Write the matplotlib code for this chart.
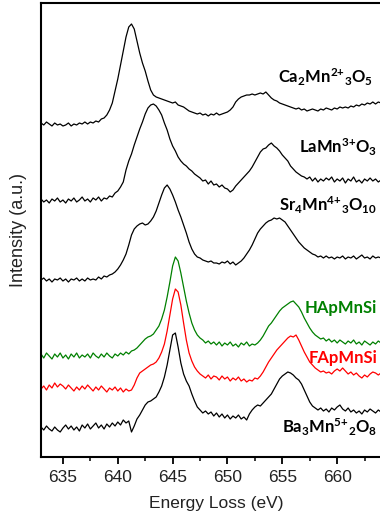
import numpy as np
import matplotlib
matplotlib.use('Agg')
import matplotlib.pyplot as plt

# energy grid (eV), 0.25 eV steps from 633 to 664
energy = np.linspace(633, 664, 125)

# stacked EELS Mn L-edge spectra (offset intensities, a.u.)
ca2mn3o5 = [
    334, 332, 335, 333,  331, 334, 332, 333,  331, 332, 334, 331,  333, 332, 334, 333,
    335, 333, 335, 334,  336, 335, 338, 339,  342, 347, 354, 366,  378, 392, 406, 420,
    430, 433, 428, 416,  404, 394, 386, 376,  367, 362, 360, 359,  358, 357, 356, 355,
    354, 355, 352, 351,  350, 348, 346, 345,  344, 343, 344, 342,  343, 341, 343, 342,
    344, 342, 343, 344,  345, 347, 350, 355,  358, 360, 361, 362,  362, 363, 362, 363,
    364, 363, 365, 362,  359, 357, 356, 354,  353, 352, 351, 350,  349, 348, 349, 347,
    348, 346, 347, 348,  347, 346, 348, 347,  349, 348, 347, 349,  348, 350, 349, 350,
    349, 351, 350, 352,  351, 353, 352, 354,  353, 355, 353, 355,  354]
lamno3 = [
    258, 255, 257, 254,  258, 256, 259, 255,  257, 254, 258, 256,  259, 255, 257, 260,
    256, 258, 255, 259,  257, 260, 256, 259,  258, 261, 260, 264,  266, 270, 275, 287,
    296, 303, 312, 320,  328, 335, 343, 349,  352, 353, 351, 347,  342, 334, 327, 318,
    311, 306, 300, 296,  293, 291, 288, 286,  283, 281, 279, 276,  277, 273, 276, 272,
    273, 270, 272, 269,  268, 265, 267, 271,  274, 277, 280, 283,  286, 290, 295, 300,
    305, 308, 309, 312,  314, 311, 309, 306,  302, 299, 296, 291,  288, 285, 283, 281,
    280, 278, 280, 276,  279, 275, 278, 276,  279, 277, 280, 275,  278, 276, 279, 274,
    278, 276, 280, 275,  277, 274, 278, 276,  279, 276, 278, 275,  277]
sr4mn3o10 = [
    177, 179, 176, 178,  175, 178, 177, 179,  176, 178, 175, 178,  177, 179, 176, 178,
    176, 179, 177, 178,  177, 180, 178, 181,  180, 182, 183, 185,  188, 192, 197, 203,
    212, 222, 228, 231,  233, 234, 232, 233,  236, 240, 246, 254,  262, 269, 272, 268,
    262, 255, 247, 240,  232, 224, 215, 208,  203, 200, 199, 197,  196, 195, 196, 194,
    194, 193, 195, 194,  196, 193, 195, 192,  194, 196, 199, 203,  207, 212, 218, 224,
    228, 231, 234, 236,  237, 239, 238, 239,  237, 235, 231, 227,  223, 219, 215, 212,
    209, 207, 205, 203,  202, 200, 201, 199,  201, 199, 200, 198,  200, 199, 201, 198,
    200, 199, 201, 198,  200, 202, 199, 200,  198, 201, 199, 200,  199]
hapmnsi = [
    103, 99, 104, 101,  98, 103, 100, 104,  99, 102, 98, 103,  100, 104, 99, 102,
    100, 103, 99, 104,  101, 99, 103, 100,  104, 101, 99, 103,  101, 104, 102, 105,
    103, 106, 107, 109,  112, 115, 118, 120,  121, 123, 127, 131,  138, 147, 160, 175,
    191, 200, 196, 184,  170, 156, 144, 134,  127, 122, 119, 117,  114, 116, 113, 115,
    112, 115, 111, 114,  112, 115, 111, 113,  110, 114, 112, 115,  111, 113, 112, 114,
    117, 121, 126, 131,  134, 138, 142, 146,  149, 151, 153, 155,  156, 153, 150, 145,
    139, 134, 129, 125,  122, 120, 118, 119,  116, 118, 115, 117,  114, 117, 115, 113,
    116, 114, 117, 113,  115, 112, 116, 114,  112, 115, 113, 116,  114]
fapmnsi = [
    68, 71, 67, 72,  69, 74, 70, 73,  71, 68, 72, 69,  66, 70, 67, 71,
    68, 72, 69, 66,  70, 67, 71, 68,  65, 69, 67, 70,  66, 69, 65, 68,
    66, 67, 72, 79,  84, 86, 88, 90,  92, 93, 95, 99,  105, 113, 126, 142,
    158, 168, 165, 152,  134, 117, 104, 96,  90, 86, 83, 81,  79, 82, 78, 81,
    80, 77, 81, 78,  80, 76, 79, 77,  80, 76, 78, 75,  77, 76, 79, 78,
    81, 85, 90, 95,  99, 103, 107, 110,  113, 116, 119, 121,  120, 122, 117, 111,
    105, 100, 95, 92,  89, 87, 85, 86,  84, 85, 83, 86,  88, 86, 89, 86,
    83, 85, 82, 84,  81, 79, 82, 80,  83, 85, 84, 82,  84]
ba3mn2o8 = [
    30, 27, 31, 28,  26, 30, 27, 25,  29, 32, 28, 31,  27, 30, 26, 32,
    29, 33, 28, 31,  34, 29, 32, 28,  33, 30, 34, 31,  35, 32, 37, 34,
    36, 25, 31, 38,  42, 47, 52, 55,  56, 58, 60, 65,  71, 80, 92, 107,
    122, 124, 110, 94,  83, 76, 71, 63,  56, 50, 47, 44,  46, 43, 45, 41,
    44, 40, 43, 39,  42, 38, 41, 39,  42, 38, 40, 37,  43, 47, 50, 52,
    51, 54, 57, 60,  63, 68, 73, 78,  81, 83, 85, 84,  82, 79, 77, 73,
    67, 61, 55, 51,  49, 47, 49, 46,  48, 45, 49, 47,  50, 52, 48, 46,
    49, 45, 47, 44,  46, 43, 47, 45,  48, 46, 44, 47,  45]

spectra = [ca2mn3o5, lamno3, sr4mn3o10, hapmnsi, fapmnsi, ba3mn2o8]
colors = ['black', 'black', 'black', 'green', 'red', 'black']
names = [r'Ca$_2$Mn$^{2{+}}$$_3$O$_5$', r'LaMn$^{3{+}}$O$_3$',
         r'Sr$_4$Mn$^{4{+}}$$_3$O$_{10}$', 'HApMnSi', 'FApMnSi',
         r'Ba$_3$Mn$^{5{+}}$$_2$O$_8$']
label_x = [654.6, 656.5, 654.7, 657.0, 657.4, 655.0]
label_y = [380, 310, 252, 149, 99, 30]

plt.rcParams['font.family'] = ['Liberation Sans', 'DejaVu Sans']
plt.rcParams['mathtext.default'] = 'regular'

fig = plt.figure(figsize=(3.8, 5.14), dpi=100)
ax = fig.add_axes([41 / 380, 57 / 514, 351 / 380, 454 / 514])

for y, c in zip(spectra, colors):
    ax.plot(energy, y, color=c, lw=0.9)

for name, c, x, y in zip(names, colors, label_x, label_y):
    ax.text(x, y, name, color=c, fontsize=12, fontweight='bold',
            family=['Lato', 'DejaVu Sans'], ha='left', va='center')

ax.set_xlim(633, 665)
ax.set_ylim(0, 454)
ax.set_xticks([635, 640, 645, 650, 655, 660])
ax.set_xticks(np.arange(637.5, 665, 5), minor=True)
ax.set_yticks([])
ax.tick_params(axis='x', which='major', direction='out', length=5, width=1.3,
               labelsize=12.5, pad=4, labelcolor='#222222')
ax.tick_params(axis='x', which='minor', direction='out', length=3, width=1.1)
for s in ax.spines.values():
    s.set_linewidth(1.5)
ax.set_xlabel('Energy Loss (eV)', fontsize=12.5, labelpad=8, color='#222222')
ax.set_ylabel('Intensity (a.u.)', fontsize=13, labelpad=10, color='#222222')

fig.savefig('out.png', dpi=100)
